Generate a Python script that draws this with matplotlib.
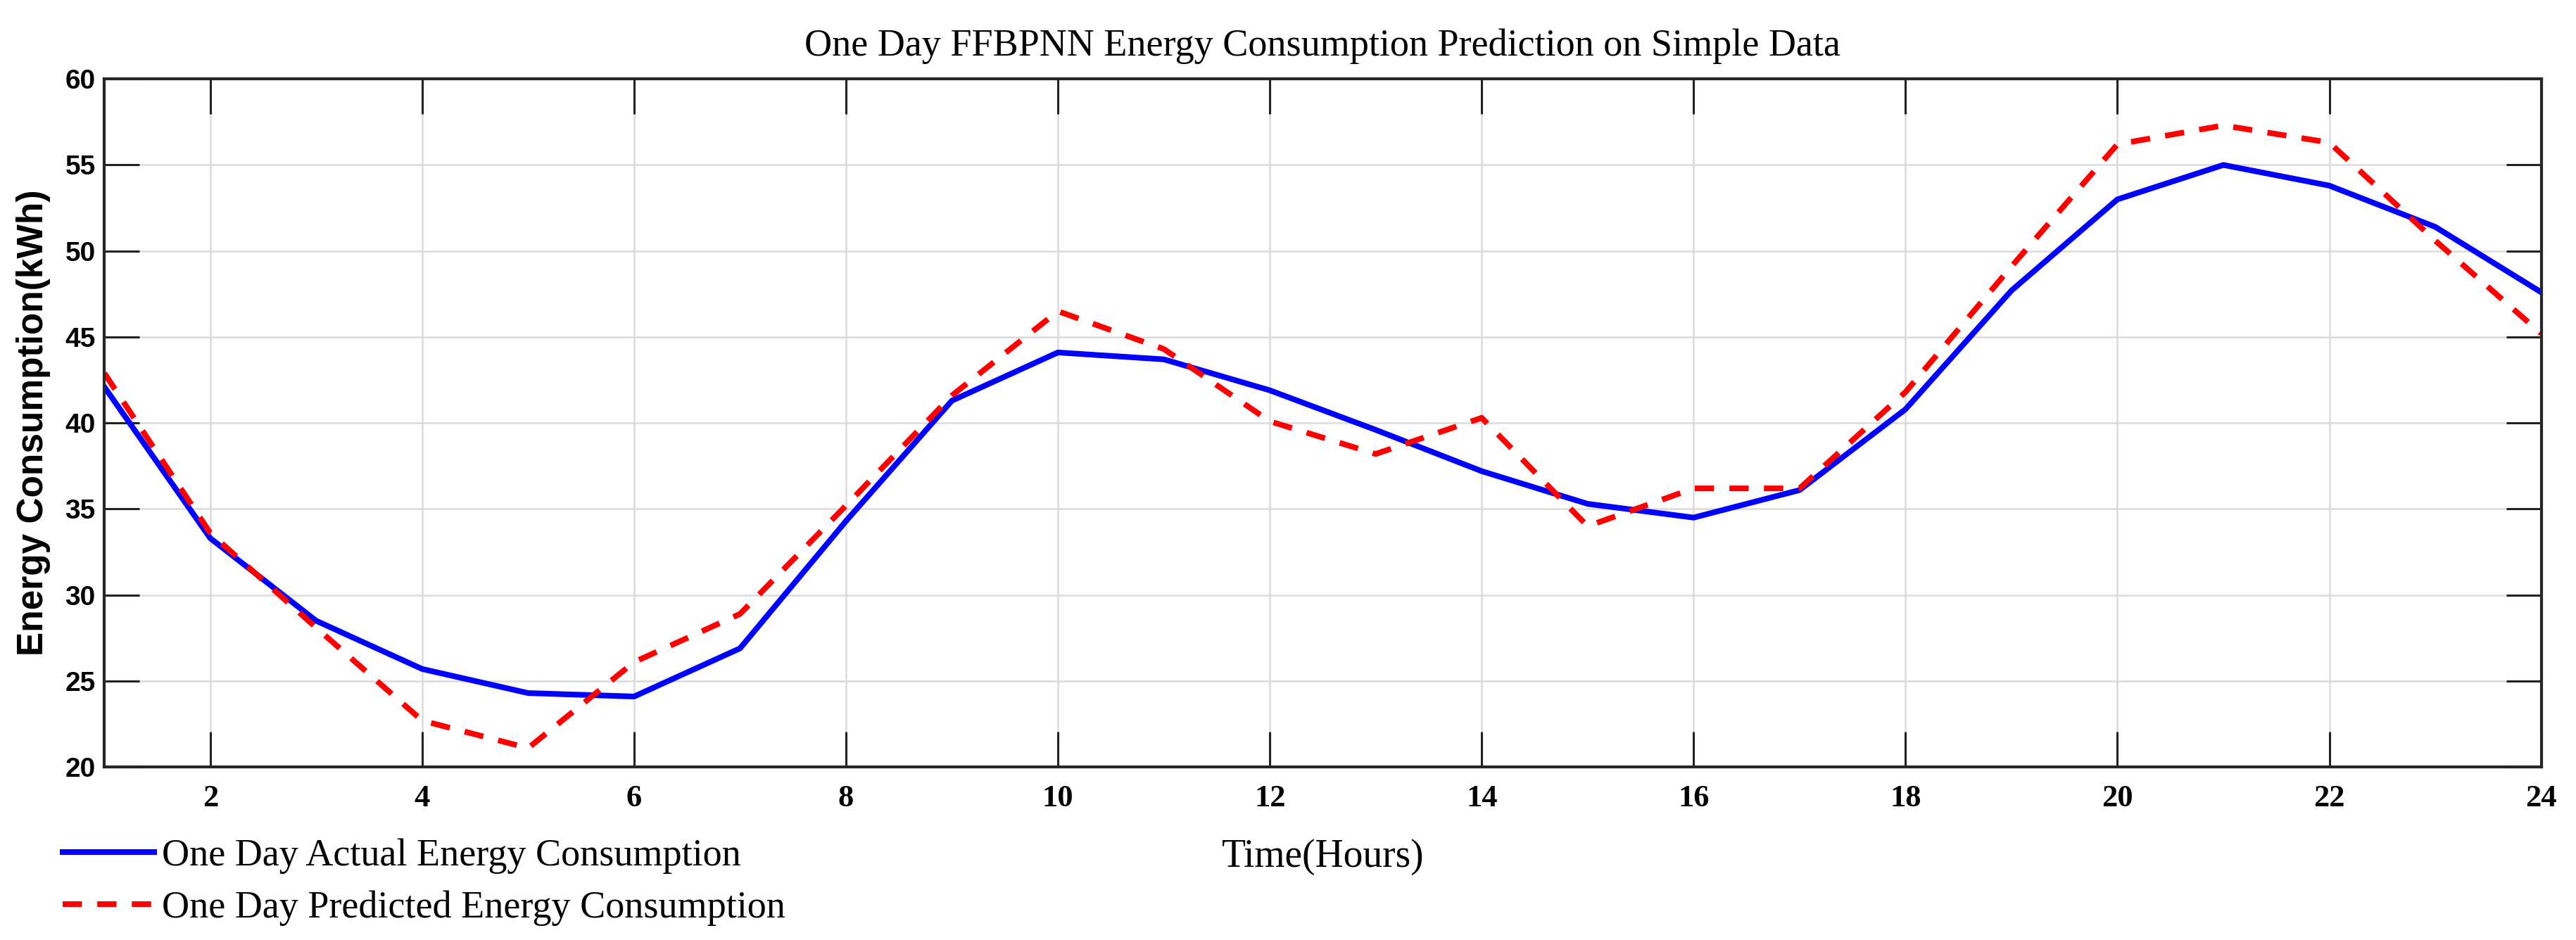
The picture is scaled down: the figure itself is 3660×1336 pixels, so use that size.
import matplotlib
matplotlib.use("Agg")
import matplotlib.pyplot as plt

hours = list(range(1, 25))
actual = [42.1, 33.3, 28.5, 25.7, 24.3, 24.1, 26.9, 34.3, 41.3, 44.1, 43.7, 41.9,
          39.6, 37.2, 35.3, 34.5, 36.1, 40.8, 47.7, 53.0, 55.0, 53.8, 51.4, 47.6]
predicted = [42.9, 33.6, 28.1, 22.7, 21.1, 26.1, 28.9, 35.2, 41.6, 46.5, 44.3, 40.1,
             38.2, 40.3, 34.0, 36.2, 36.2, 41.8, 49.1, 56.2, 57.3, 56.3, 50.6, 45.2]
xticks = list(range(2, 25, 2))
yticks = list(range(20, 61, 5))

title = "One Day FFBPNN Energy Consumption Prediction on Simple Data"
xlabel = "Time(Hours)"
ylabel = "Energy Consumption(kWh)"
labels = ["One Day Actual Energy Consumption", "One Day Predicted Energy Consumption"]

serif = "Liberation Serif"
sans = "Liberation Sans"

fig = plt.figure(figsize=(36.6, 13.36), dpi=100)
ax = fig.add_axes([0.0405, 0.184, 0.946, 0.732])

ax.plot(hours, actual, color="#0000ff", lw=5.8, label=labels[0])
ax.plot(hours, predicted, color="#ff0000", lw=5.8, ls=(0, (3.4, 2.7)), label=labels[1])

ax.set_xlim(1, 24)
ax.set_ylim(20, 60)
ax.set_xticks(xticks)
ax.set_yticks(yticks)
ax.grid(True, color="#dadada", lw=1.8)
ax.set_axisbelow(True)
ax.tick_params(direction="in", length=36, width=2.2, top=True, right=True, color="#222222")
for s in ax.spines.values():
    s.set_linewidth(3)
    s.set_color("#262626")

for lab in ax.get_xticklabels():
    lab.set_fontfamily(serif)
    lab.set_fontsize(32)
    lab.set_fontweight("bold")
for lab in ax.get_yticklabels():
    lab.set_fontfamily(sans)
    lab.set_fontsize(28)
    lab.set_fontweight("bold")
ax.tick_params(axis="x", pad=18)
ax.tick_params(axis="y", pad=9)

ax.set_title(title, fontfamily=serif, fontsize=39, pad=24)
ax.set_xlabel(xlabel, fontfamily=serif, fontsize=40)
ax.xaxis.set_label_coords(0.5, -0.104)
ax.set_ylabel(ylabel, fontfamily=sans, fontweight="bold", fontsize=37)
ax.yaxis.set_label_coords(-0.022, 0.5)

leg = fig.legend(loc="upper left", bbox_to_anchor=(0.0243, 0.108), frameon=False,
                 prop={"family": serif, "size": 39}, handlelength=2.4, handletextpad=0.2,
                 labelspacing=0.43, borderaxespad=0, borderpad=0)

fig.savefig("out.png", dpi=100)
